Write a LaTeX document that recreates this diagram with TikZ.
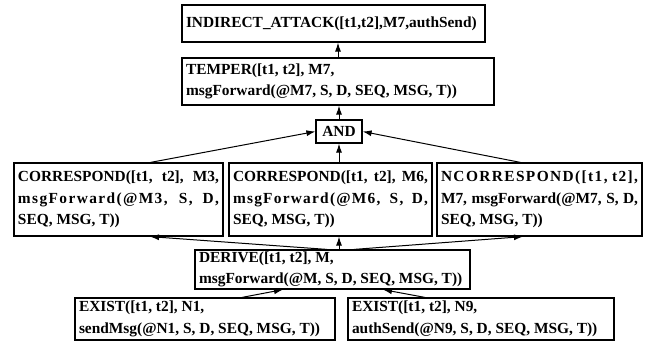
\documentclass[tikz,border=0pt]{standalone}
\usepackage{fontspec}
\setmainfont{Liberation Serif}
\usetikzlibrary{arrows.meta}
% stretch one line of a box over its full width (optional letter spacing)
\newcommand{\spreadline}[2][0]{\makebox[\hsize][s]{\addfontfeature{LetterSpace=#1}#2}}

\begin{document}
\begin{tikzpicture}[x=0.5pt, y=-0.5pt,
    termbox/.style={draw, rectangle, line width=0.6pt, align=left,
      inner xsep=2pt, inner ysep=0pt,
      font=\bfseries\fontsize{7.7}{10.8}\selectfont,
      execute at begin node={\spaceskip=0pt\xspaceskip=0pt}},
    link/.style={-{Latex[length=4.5pt,width=3pt]}, line width=0.5pt}]
  % page size in pixels of the reference
  \useasboundingbox (0,0) rectangle (649,345);
  % attack goal
  \node[termbox, text width=147.5pt, minimum height=18.5pt] (indirect) at (333.5,23.5)
    {INDIRECT\_ATTACK([t1,t2],M7,authSend)};
  % tempering step
  \node[termbox, text width=152pt, minimum height=23.5pt] (temper) at (338,81.5)
    {TEMPER([t1, t2], M7,\\msgForward(@M7, S, D, SEQ, MSG, T))};
  % conjunction
  \node[termbox, align=center, text width=19pt, minimum height=11.5pt] (and) at (339,131.5) {AND};
  % the three correspondences
  \node[termbox, text width=100.5pt, minimum height=36.5pt] (corrA) at (118.5,199.5)
    {\spreadline{CORRESPOND([t1, t2], M3,}\\\spreadline[9]{msgForward(@M3, S, D,}\\SEQ, MSG, T))};
  \node[termbox, text width=97.5pt, minimum height=36.5pt] (corrB) at (330.5,199.5)
    {\spreadline{CORRESPOND([t1, t2], M6,}\\\spreadline[8]{msgForward(@M6, S, D,}\\SEQ, MSG, T))};
  \node[termbox, text width=98.5pt, minimum height=36.5pt] (ncorr) at (539.5,199.5)
    {\spreadline[9]{NCORRESPOND([t1, t2],}\\\spreadline{M7, msgForward(@M7, S, D,}\\SEQ, MSG, T))};
  % derivation
  \node[termbox, text width=133.5pt, minimum height=19.5pt] (derive) at (332.5,269.5)
    {DERIVE([t1, t2], M,\\msgForward(@M, S, D, SEQ, MSG, T))};
  % facts at the bottom
  \node[termbox, text width=126pt, minimum height=21pt] (existA) at (205,319)
    {EXIST([t1, t2], N1,\\sendMsg(@N1, S, D, SEQ, MSG, T))};
  \node[termbox, text width=129pt, minimum height=21pt] (existB) at (481,319)
    {EXIST([t1, t2], N9,\\authSend(@N9, S, D, SEQ, MSG, T))};
  % upper arrows
  \draw[link] (temper.north) -- (temper.north |- indirect.south);
  \draw[link] (and.north) -- (and.north |- temper.south);
  \draw[link] ([xshift=16pt]corrA.north) -- (and.west);
  \draw[link] (and.south |- corrB.north) -- (and.south);
  \draw[link] ([xshift=-9.5pt]ncorr.north) -- (and.east);
  % arrows out of the derivation
  \draw[link] ([xshift=-2.75pt]derive.north) -- ([xshift=15.75pt]corrA.south);
  \draw[link] (derive.north -| and.south) -- (corrB.south -| and.south);
  \draw[link] ([xshift=10.75pt]derive.north) -- ([xshift=-8.25pt]ncorr.south);
  % arrows into the derivation
  \draw[link] ([xshift=18.5pt]existA.north) -- ([xshift=-24.75pt]derive.south);
  \draw[link] ([xshift=-28pt]existB.north) -- ([xshift=25.25pt]derive.south);
\end{tikzpicture}
\end{document}
